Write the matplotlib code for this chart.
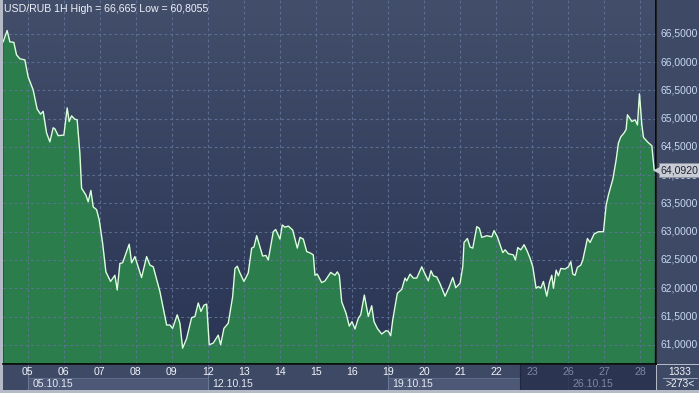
import numpy as np
import matplotlib
matplotlib.use("Agg")
import matplotlib.pyplot as plt
from matplotlib.colors import LinearSegmentedColormap

# ---- data (x = trading-day index, 0 = 05.10.15 ; y = USD/RUB) ----
day_pos = [-0.686, -0.575, -0.5, -0.389, -0.314, -0.222, -0.083, 0.008, 0.147, 0.258,
           0.353, 0.425, 0.519, 0.611, 0.703, 0.75, 0.842, 1.0, 1.092, 1.147,
           1.214, 1.306, 1.369, 1.444, 1.492, 1.611, 1.675, 1.75, 1.814, 1.908,
           1.981, 2.075, 2.167, 2.297, 2.417, 2.481, 2.556, 2.631, 2.814, 2.881,
           2.972, 3.158, 3.297, 3.389, 3.481, 3.667, 3.853, 3.944, 4.019, 4.147,
           4.222, 4.297, 4.408, 4.547, 4.639, 4.731, 4.806, 4.889, 4.964, 5.036,
           5.147, 5.286, 5.353, 5.444, 5.564, 5.686, 5.75, 5.814, 5.889, 6.0,
           6.119, 6.214, 6.278, 6.353, 6.519, 6.611, 6.675, 6.814, 6.881, 7.0,
           7.064, 7.139, 7.231, 7.353, 7.481, 7.556, 7.647, 7.742, 7.853, 7.925,
           7.972, 8.036, 8.158, 8.25, 8.408, 8.528, 8.592, 8.647, 8.714, 8.833,
           8.925, 9.0, 9.083, 9.175, 9.242, 9.342, 9.453, 9.547, 9.611, 9.703,
           9.825, 9.944, 10.008, 10.075, 10.131, 10.258, 10.381, 10.472, 10.519, 10.611,
           10.703, 10.797, 10.936, 11.028, 11.119, 11.194, 11.258, 11.353, 11.444, 11.583,
           11.703, 11.797, 11.881, 12.0, 12.075, 12.111, 12.203, 12.278, 12.353, 12.464,
           12.536, 12.603, 12.742, 12.881, 12.944, 13.036, 13.186, 13.25, 13.342, 13.481,
           13.536, 13.603, 13.686, 13.778, 13.869, 13.944, 14.019, 14.111, 14.175, 14.242,
           14.314, 14.408, 14.481, 14.547, 14.592, 14.667, 14.731, 14.797, 14.917, 15.008,
           15.075, 15.131, 15.194, 15.258, 15.353, 15.408, 15.536, 15.611, 15.722, 15.842,
           15.981, 16.056, 16.119, 16.242, 16.333, 16.397, 16.464, 16.556, 16.611, 16.647,
           16.769, 16.861, 16.925, 16.981, 17.047, 17.092, 17.203, 17.325, 17.389]
rate = [66.36, 66.56, 66.36, 66.35, 66.13, 66.06, 66.04, 65.74, 65.51, 65.17,
        65.08, 65.13, 64.75, 64.59, 64.84, 64.82, 64.70, 64.71, 65.19, 64.95,
        65.05, 64.99, 64.98, 64.39, 63.77, 63.65, 63.53, 63.73, 63.44, 63.39,
        63.21, 62.80, 62.29, 62.12, 62.23, 61.97, 62.44, 62.45, 62.78, 62.45,
        62.56, 62.19, 62.56, 62.41, 62.38, 61.94, 61.35, 61.35, 61.29, 61.53,
        61.38, 60.94, 61.11, 61.48, 61.50, 61.74, 61.59, 61.70, 61.72, 61.00,
        61.03, 61.17, 61.00, 61.29, 61.38, 61.85, 62.35, 62.39, 62.27, 62.12,
        62.27, 62.71, 62.73, 62.93, 62.57, 62.58, 62.50, 63.00, 63.04, 62.87,
        63.12, 63.08, 63.10, 63.03, 62.71, 62.90, 62.87, 62.65, 62.62, 62.59,
        62.23, 62.25, 62.10, 62.13, 62.28, 62.23, 62.29, 62.23, 61.76, 61.56,
        61.33, 61.41, 61.28, 61.47, 61.53, 61.88, 61.50, 61.69, 61.41, 61.29,
        61.19, 61.25, 61.24, 61.16, 61.44, 61.91, 61.98, 62.18, 62.13, 62.25,
        62.18, 62.18, 62.38, 62.25, 62.13, 62.31, 62.22, 62.20, 62.08, 61.86,
        62.03, 62.19, 62.01, 62.09, 62.38, 62.81, 62.88, 62.73, 62.71, 63.09,
        63.06, 62.90, 62.93, 62.91, 63.02, 62.91, 62.63, 62.68, 62.61, 62.59,
        62.50, 62.72, 62.68, 62.77, 62.65, 62.53, 62.38, 62.00, 62.03, 62.00,
        62.12, 61.86, 62.10, 62.23, 62.00, 62.32, 62.22, 62.35, 62.34, 62.38,
        62.47, 62.25, 62.23, 62.37, 62.41, 62.50, 62.88, 62.81, 62.96, 63.00,
        63.00, 63.47, 63.65, 63.93, 64.27, 64.57, 64.68, 64.75, 64.81, 65.07,
        64.95, 64.98, 64.89, 65.44, 64.89, 64.67, 64.59, 64.52, 64.092]

day_labels = ['05', '06', '07', '08', '09', '12', '13', '14', '15', '16',
              '19', '20', '21', '22', '23', '26', '27', '28']
week_labels = ['05.10.15', '12.10.15', '19.10.15', '26.10.15']
week_starts = [0, 5, 10, 15]
price_ticks = [61.0, 61.5, 62.0, 62.5, 63.0, 63.5, 64.0, 64.5, 65.0, 65.5, 66.0, 66.5]
title_text = 'USD/RUB 1H High = 66,665 Low = 60,8055'
last_price_text = '64,0920'
corner_top, corner_bottom = '1333', '>273<'
dim_from = 13.67   # start of the dimmed region on the time bar

X_MIN, X_MAX = -0.69, 17.44
Y_MIN, Y_MAX = 60.66, 67.10

W, H = 699, 393
fig = plt.figure(figsize=(W / 100, H / 100), dpi=100, facecolor='#b4bac6')
FONT = 'Liberation Sans'

def fr(x0, y0, x1, y1):
    return [x0 / W, 1 - y1 / H, (x1 - x0) / W, (y1 - y0) / H]

# ---- main plot ----
ax = fig.add_axes(fr(3, 0, 656, 364))
grad = np.linspace(0, 1, 256).reshape(-1, 1)
cmap = LinearSegmentedColormap.from_list('bg', ['#424e6a', '#2a3454'])
ax.imshow(grad, cmap=cmap, aspect='auto', extent=[X_MIN, X_MAX, Y_MIN, Y_MAX],
          zorder=0, origin='upper')
ax.set_xlim(X_MIN, X_MAX)
ax.set_ylim(Y_MIN, Y_MAX)
ax.fill_between(day_pos, rate, Y_MIN, color='#2b7d4b', zorder=1, linewidth=0)
ax.plot(day_pos, rate, color='#dcffdc', lw=1.0, zorder=3)
for d in range(len(day_labels)):
    ax.axvline(d, color='#62749a', lw=0.8, ls=(0, (2.5, 2.5)), zorder=2, alpha=0.85)
for p in price_ticks:
    ax.axhline(p, color='#62749a', lw=0.8, ls=(0, (2.5, 2.5)), zorder=2, alpha=0.85)
ax.set_xticks([]); ax.set_yticks([])
for s in ['top', 'left']:
    ax.spines[s].set_visible(False)
ax.spines['right'].set_color('black'); ax.spines['right'].set_linewidth(1.2)
ax.spines['bottom'].set_color('black'); ax.spines['bottom'].set_linewidth(1.2)
ax.text(0.002, 0.975, title_text, transform=ax.transAxes, color='#f0f2f8',
        fontsize=7.6, family=FONT, va='center', ha='left', zorder=5)

# ---- right price panel ----
axr = fig.add_axes(fr(657, 0, 699, 364))
axr.set_facecolor('#3d4965')
axr.set_xlim(0, 1); axr.set_ylim(Y_MIN, Y_MAX)
axr.set_xticks([]); axr.set_yticks([])
for s in axr.spines.values():
    s.set_visible(False)
for p in price_ticks:
    axr.text(0.08, p, f'{p:.4f}'.replace('.', ','), color='#c9d8f0', fontsize=7.4,
             family=FONT, va='center', ha='left', zorder=2)
axr.annotate(last_price_text, xy=(0.0, rate[-1]), xytext=(0.08, rate[-1]),
             color='#1b2236', fontsize=7.6, family=FONT, va='center', ha='left',
             bbox=dict(boxstyle='square,pad=0.15', fc='#c9ccd3', ec='#8a90a0', lw=0.6),
             zorder=6)
axr.plot([0.0], [rate[-1]], marker='<', ms=4, color='#c9ccd3', zorder=7, clip_on=False)

# ---- bottom time panel ----
axb = fig.add_axes(fr(3, 365, 656, 390))
axb.set_facecolor('#3d4965')
axb.set_xlim(X_MIN, X_MAX); axb.set_ylim(0, 2)
axb.set_xticks([]); axb.set_yticks([])
for s in axb.spines.values():
    s.set_visible(False)
for i, ws in enumerate(week_starts):
    we = week_starts[i + 1] if i + 1 < len(week_starts) else X_MAX
    if i % 2 == 0:
        axb.fill_between([ws, min(we, dim_from)], 0, 0.95, color='#4c5876', lw=0)
        axb.plot([ws, min(we, dim_from)], [0.95, 0.95], color='#5d6a88', lw=0.8)
    axb.plot([ws, ws], [0, 2], color='#6a7896', lw=0.8)
axb.fill_between([dim_from, X_MAX], 0, 2, color='#28314d', lw=0, zorder=3, alpha=0.85)
axb.plot([dim_from, dim_from], [0, 2], color='#20283f', lw=0.8, zorder=4)
for d, lab in enumerate(day_labels):
    dim = d > dim_from
    axb.text(d, 1.45, lab, color='#7d89a3' if dim else '#f2f4fa', fontsize=7.6,
             family=FONT, ha='center', va='center', zorder=5)
for ws, lab in zip(week_starts, week_labels):
    dim = ws > dim_from
    axb.text(ws + 0.12, 0.48, lab, color='#7d89a3' if dim else '#e6eaf4',
             fontsize=7.6, family=FONT, ha='left', va='center', zorder=5)

# ---- corner panel ----
axc = fig.add_axes(fr(657, 365, 699, 390))
axc.set_facecolor('#3d4965')
axc.set_xlim(0, 1); axc.set_ylim(0, 2)
axc.set_xticks([]); axc.set_yticks([])
for s in axc.spines.values():
    s.set_visible(False)
axc.text(0.55, 1.45, corner_top, color='#f2f4fa', fontsize=7.4, family=FONT,
         ha='center', va='center')
axc.plot([0.15, 0.95], [0.95, 0.95], color='#9aa4ba', lw=0.7)
axc.text(0.55, 0.45, corner_bottom, color='#f2f4fa', fontsize=7.4, family=FONT,
         ha='center', va='center')

fig.savefig('out.png', dpi=100, facecolor=fig.get_facecolor())
